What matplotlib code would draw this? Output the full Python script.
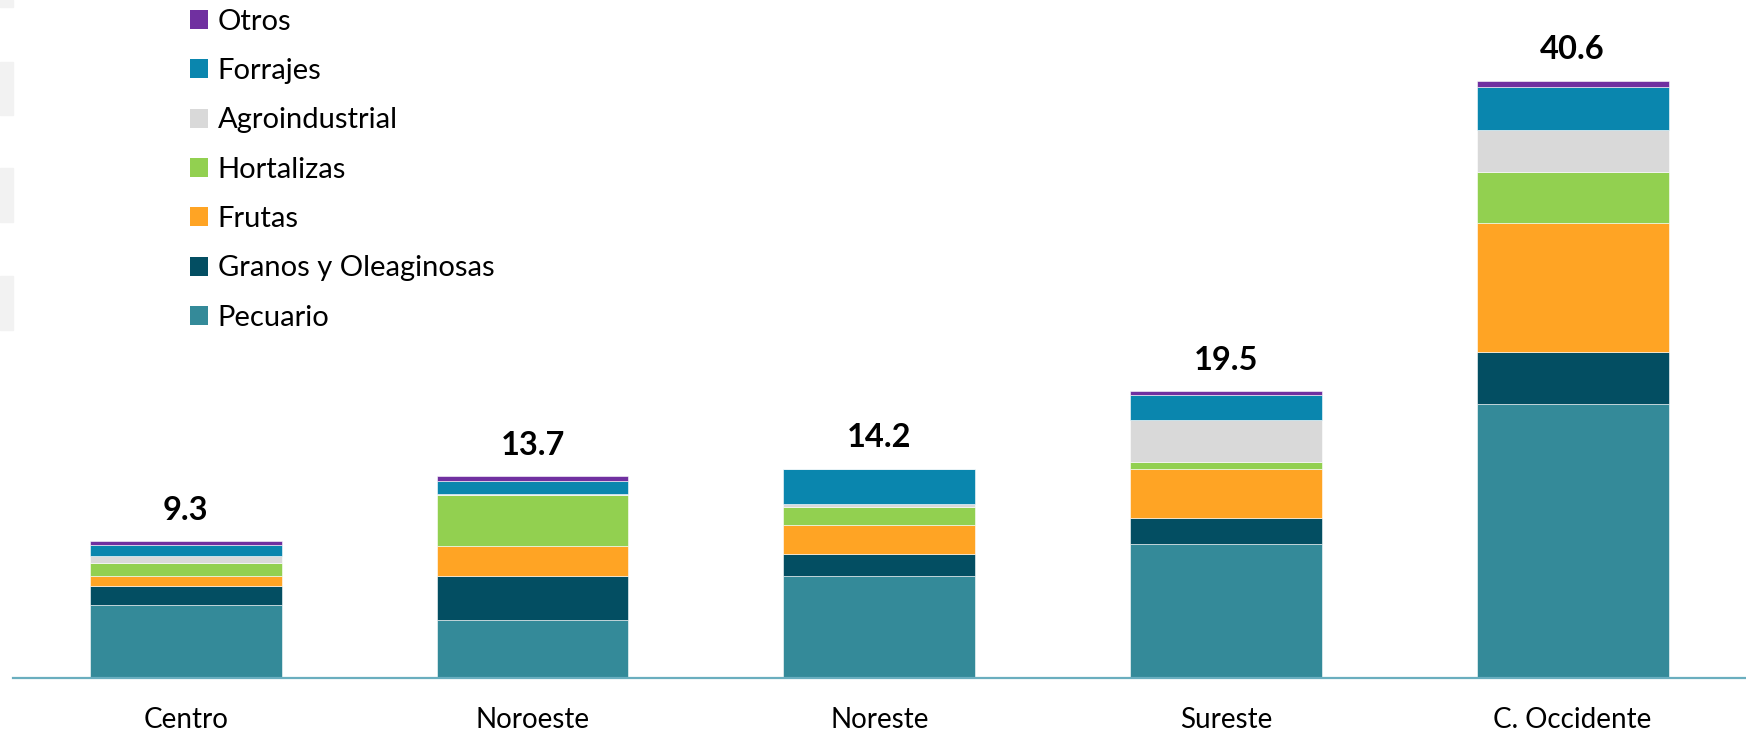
import numpy as np
import matplotlib
matplotlib.use("Agg")
import matplotlib.pyplot as plt
from matplotlib.patches import Rectangle, Patch

plt.rcParams['font.family'] = ['Lato', 'DejaVu Sans']

REGIONS = ['Centro', 'Noroeste', 'Noreste', 'Sureste', 'C. Occidente']
TOTALS = [9.3, 13.7, 14.2, 19.5, 40.6]

# values per category, bottom to top
pecuario = [4.97, 3.97, 6.91, 9.12, 18.66]
granos = [1.31, 2.95, 1.50, 1.77, 3.54]
frutas = [0.66, 2.07, 1.97, 3.31, 8.76]
hortalizas = [0.86, 3.44, 1.22, 0.52, 3.44]
agroindustrial = [0.52, 0.09, 0.25, 2.86, 2.88]
forrajes = [0.70, 0.91, 2.36, 1.65, 2.93]
otros = [0.27, 0.29, 0.02, 0.27, 0.43]

SERIES = ['Pecuario', 'Granos y Oleaginosas', 'Frutas', 'Hortalizas',
          'Agroindustrial', 'Forrajes', 'Otros']
COLORS = ['#348A99', '#034E62', '#FFA424', '#92D050', '#D9D9D9', '#0A86AE', '#7030A0']


def main():
    fig = plt.figure(figsize=(17.46, 7.34), dpi=100)
    ax = fig.add_axes([12.5 / 1746, 56 / 734, 1 - 12.5 / 1746, 678 / 734])

    data = [pecuario, granos, frutas, hortalizas, agroindustrial, forrajes, otros]
    x = np.arange(len(REGIONS))
    bottom = np.zeros(len(REGIONS))
    for vals, name, col in zip(data, SERIES, COLORS):
        ax.bar(x, vals, width=0.553, bottom=bottom, color=col, label=name,
               edgecolor='white', linewidth=0.4)
        bottom += np.array(vals)

    for xi, top, tot in zip(x, bottom, TOTALS):
        ax.annotate(f'{tot:.1f}', (xi, top), xytext=(0, 15.5), textcoords='offset points',
                    ha='center', va='baseline', fontsize=23.5, fontweight='bold')

    ax.set_xlim(-0.5, 4.5)
    ax.set_ylim(0, 678 / 14.70)
    ax.set_xticks(x)
    ax.set_xticklabels(REGIONS, fontsize=20)
    ax.tick_params(axis='x', length=0, pad=21)
    ax.set_yticks([])
    for s in ['top', 'right', 'left']:
        ax.spines[s].set_visible(False)
    ax.spines['bottom'].set_color('#6AAEBF')
    ax.spines['bottom'].set_linewidth(1.6)

    handles = [Patch(facecolor=c, label=n) for n, c in zip(SERIES, COLORS)][::-1]
    fig.legend(handles=handles, loc='upper left', bbox_to_anchor=(190 / 1746, 0.988),
               frameon=False, fontsize=21, handlelength=0.62, handleheight=0.62,
               handletextpad=0.33, labelspacing=0.8, borderpad=0, borderaxespad=0)

    # faint grey strips on the left edge of the source screenshot
    for y0, y1 in [(0, 7), (62, 115), (168, 222), (276, 330)]:
        fig.patches.append(Rectangle((0, 1 - y1 / 734), 13 / 1746, (y1 - y0) / 734,
                                     transform=fig.transFigure, color='#F2F2F2', zorder=0))

    fig.savefig('out.png', dpi=100)


main()
